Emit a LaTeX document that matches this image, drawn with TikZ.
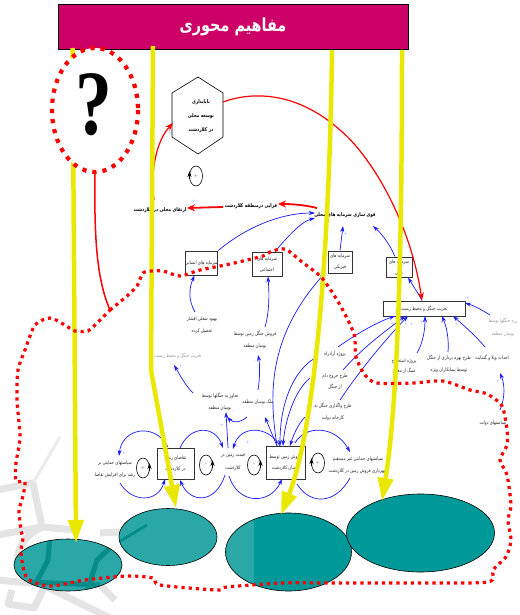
\documentclass[tikz,border=0pt]{standalone}
\usepackage{fontspec}
\usetikzlibrary{arrows.meta,shapes.geometric,calc}
\newfontfamily\arabicfont[Script=Arabic,FakeStretch=0.8]{DejaVu Sans}
\newfontfamily\qfont{Liberation Serif}
\TeXXeTstate=1
\newcommand\ar[1]{\beginR #1\endR}
\definecolor{magentatitle}{HTML}{CC0066}
\definecolor{tealdark}{HTML}{009999}
\definecolor{teallight}{HTML}{2AA8A8}
\definecolor{tealstrip}{HTML}{078C8C}
\definecolor{yell}{HTML}{EAE800}
\definecolor{wm}{HTML}{E4E4E4}
\definecolor{blu}{HTML}{1A1AFF}
\tikzset{
  lbl/.style={font=\fontsize{5}{12.5}\selectfont\arabicfont,align=center,inner sep=0pt,text=black!85},
  lblb/.style={font=\fontsize{5.2}{12.5}\selectfont\arabicfont\bfseries,align=center,inner sep=0pt},
  greylbl/.style={lbl,text=black!40},
  boxn/.style={draw=black!80,line width=1pt,fill=white,inner sep=0pt,align=center,font=\fontsize{5}{11}\selectfont\arabicfont,text=black!85},
  bl/.style={draw=blu,line width=.7pt,-{Stealth[length=6pt,width=4pt]}},
  blplain/.style={draw=blu,line width=.7pt},
  rd/.style={draw=red,line width=1.8pt,-{Stealth[length=8pt,width=7pt]}},
  rdthin/.style={draw=red,line width=1.2pt,-{Stealth[length=8pt,width=6pt]}},
  dots/.style={draw=red,line width=3.2pt,dash pattern=on 3.2pt off 4pt},
  yl/.style={draw=yell,line width=4.5pt,-{Triangle[length=23pt,width=15pt]}},
  sgn/.style={font=\fontsize{4.5}{5}\selectfont\sffamily,text=blu!70,inner sep=0pt},
  ell/.style={ellipse,draw=black,line width=.6pt,inner sep=0pt},
  cycl/.style={font=\fontsize{5}{5}\selectfont\sffamily,inner sep=0pt,text=black!80},
}
\newcommand\cyc[5]{%
  \node[cycl] (#1) at (#2,#3) {#4};
  \draw[black,line width=.6pt] (#1.center) ellipse (6.5 and 10);
  \draw[black,line width=1pt,-{Stealth[length=6pt,width=4pt]}] ($(#1.center)+(#5*6.5,3)$) -- ($(#1.center)+(#5*6.5,-5)$);
}
\begin{document}
\begin{tikzpicture}[x=1pt,y=-1pt]
\useasboundingbox (0,0) rectangle (519,615);
\fill[white] (0,0) rectangle (519,615);

% watermark
\begin{scope}[draw=wm,line width=7pt,line join=round]
  \draw (-3,490) -- (33,483) -- (42,527);
  \draw[line width=3pt,draw=wm!70] (33,483) -- (60,437);
  \draw (-3,535) -- (42,527) -- (75,530);
  \draw (42,527) .. controls (15,540) and (10,565) .. (30,583);
  \draw (-3,580) -- (30,583) -- (50,578);
  \draw (12,590) -- (8,604) -- (34,608) -- (45,586);
  \draw (45,586) -- (110,618);
  \draw (90,575) -- (115,600);
  \draw (100,533) -- (120,532);
\end{scope}

% ellipses
\node[ell,draw=none,fill=teallight,minimum width=108pt,minimum height=52pt] (e1) at (68,565) {};
\begin{scope}
  \clip (68,565) ellipse (54 and 26);
  \draw[tealstrip,line width=5pt] (50,535) -- (48,560) -- (35,585);
  \draw[tealstrip,line width=5pt] (110,548) -- (97,560) -- (87,592);
  \draw[tealstrip,line width=5pt] (30,582) -- (100,585);
\end{scope}
\draw[black,line width=.6pt] (68,565) ellipse (54 and 26);

\node[ell,draw=none,fill=teallight,minimum width=98pt,minimum height=57pt] (e2) at (168,537) {};
\begin{scope}
  \clip (168,537) ellipse (49 and 28.5);
  \draw[tealstrip,line width=3pt] (117,543) -- (147,525);
\end{scope}
\draw[black,line width=.6pt] (168,537) ellipse (49 and 28.5);

\node[ell,draw=none,fill=tealdark,minimum width=126pt,minimum height=78pt] (e3) at (288.5,552) {};
\begin{scope}
  \clip (288.5,552) ellipse (63 and 39);
  \fill[teallight] (220,505) rectangle (254,600);
\end{scope}
\draw[black,line width=.6pt] (288.5,552) ellipse (63 and 39);

\node[ell,fill=tealdark,minimum width=148pt,minimum height=78pt] (e4) at (420.5,533) {};

% title
\node[draw=black,line width=.8pt,fill=magentatitle,minimum width=350pt,minimum height=45pt,inner sep=0pt,text=white,font=\fontsize{18}{20}\selectfont\arabicfont\bfseries] (title) at (233,26.5) {\ar{مفاهیم محوری}};

% hexagon
\node[lblb,font=\fontsize{5.2}{14}\selectfont\arabicfont\bfseries] (hex) at (201,116) {\ar{ناپایداری}\\\ar{توسعه محلی}\\\ar{در کلاردشت}};
\draw[black,line width=.6pt] (198,77) -- (223,93) -- (223,137) -- (198,154) -- (172,137) -- (172,93) -- cycle;

% main labels
\node[lblb] (artq) at (160,210) {\ar{ارتقای محلی در کلاردشت}};
\node[lblb] (fzy) at (251,206) {\ar{فزایی درمنطقه کلاردشت}};
\node[lblb] (qvy) at (345,215) {\ar{قوی سازی سرمایه های محلی}};

% boxes
\node[boxn,minimum width=29pt,minimum height=24pt] (b1) at (201.5,263) {\ar{سرمایه های انسانی}};
\node[boxn,minimum width=30pt,minimum height=24pt] (b2) at (267,264) {\ar{سرمایه های}\\\ar{اجتماعی}};
\node[boxn,minimum width=24pt,minimum height=22pt] (b3) at (340,262) {\ar{سرمایه های}\\\ar{فیزیکی}};
\node[boxn,minimum width=26pt,minimum height=20pt] (b4) at (399,267) {\ar{سرمایه های}\\\ar{مالی}};
\node[boxn,minimum width=82pt,minimum height=15pt] (b5) at (424,308.5) {\ar{تخریب جنگل و محیط زیست}};
\node[boxn,minimum width=37pt,minimum height=31pt] (tz) at (175.5,463.5) {\ar{تقاضای زمین}\\\ar{در کلاردشت}};
\node[boxn,minimum width=39pt,minimum height=33pt] (fz) at (285.5,462.5) {\ar{فروش زمین توسط}\\\ar{بومیان کلاردشت}};

% other labels
\node[lbl] (bhb) at (202,325) {\ar{بهبود شغلی اقشار}\\\ar{تحصیل کرده}};
\node[lbl] (frb) at (255,340) {\ar{فروش جنگل زمین توسط}\\\ar{بومیان منطقه}};
\node[greylbl] (grt) at (178,356) {\ar{تخریب جنگل و محیط زیست}};
\node[lbl] (tjv) at (220,402) {\ar{تجاوز به جنگلها توسط}\\\ar{بومیان منطقه}};
\node[lbl] (mlk) at (258,402) {\ar{ملک بومیان منطقه}};
\node[lbl] (qmt) at (233,462) {\ar{قیمت زمین در}\\\ar{کلاردشت}};
\node[lbl] (spl) at (115,469) {\ar{سیاستهای حمایتی بر}\\\ar{رشد برای افزایش تقاضا}};
\node[lbl] (spr) at (358,465) {\ar{سیاستهای حمایتی غیر مستقیم}\\\ar{شهرداری فروش زمین در کلاردشت}};
\node[lbl] (pra) at (335,354) {\ar{پروژه آزادراه}};
\node[lbl,font=\fontsize{5}{11}\selectfont\arabicfont] (trk) at (335,382) {\ar{طرح خروج دام}\\\ar{از جنگل}};
\node[lbl] (trv) at (333,412) {\ar{طرح واگذاری جنگل به}\\\ar{کارخانه دولت}};
\node[lbl,font=\fontsize{5}{10}\selectfont\arabicfont] (prs) at (404,366) {\ar{پروژه استخراج}\\\ar{سنگ از معدن}};
\node[lbl] (trb) at (449,364) {\ar{طرح بهره برداری از جنگل}\\\ar{توسط پیمانکاران ویژه}};
\node[lbl] (ahd) at (492,358) {\ar{احداث ویلا و گسایت}};
\node[greylbl,font=\fontsize{5}{13}\selectfont\arabicfont] (zrh) at (503,327) {\ar{زره جنگلها توسط}\\\ar{بومیان منطقه}};
\node[lbl] (syd) at (493,423) {\ar{سیاستهای دولت}};

% named free ends of the connectors
\foreach \n/\px/\py in {qa/315/213,qb/315/218,qc/343/226,qd/373/226,
  zs/490/315,as/485/347,bs/448/352,ps/417/353,vs/340/400,ks/343/370,rs/338/347,
  za/465/303,aa/453/316,ba/442/316,pa/425/316,va/408/316,ka/405/316,ra/395/316,
  f1/315/358,f2/310/378,f3/305/417,ft1/280/446,ft2/283/446,ft3/290/446,ft0/277/446,
  ml/265/417,mb/258/390,fb/258/355,tj/226/412,ms/247/417,mt/227/417,qm1/228/448,
  tg/193/393,gt/174/365,fu/265/327,bh/195/312,sd/500/410,sa/500/373,
  pr1/350/452,fr1/295/443,qt1/233/449,qt2/223/448,qb1/229/476,qb2/225/475,
  tz1/168/447,tz2/180/448,tz3/180/480,sl1/119/456,sl2/120/483,tb/165/479,
  fb1/282/479,fb2/297/484,pr2/350/478} {
  \coordinate (\n) at (\px,\py);
}

% blue connectors
\draw[bl] (b1.north east) .. controls (245,228) and (280,213) .. (qa);
\draw[bl] ([xshift=8pt]b2.north) .. controls (285,240) and (300,222) .. (qb);
\draw[bl] (b3.north) -- (qc);
\draw[bl] ([xshift=-4pt]b4.north) .. controls (390,245) and (383,235) .. (qd);
\draw[bl] ([xshift=-2pt]b5.north) .. controls (418,293) and (412,284) .. ([xshift=9pt]b4.south);
\draw[bl] (zs) .. controls (482,310) and (475,306) .. (za);
\draw[bl] (as) .. controls (475,335) and (462,324) .. (aa);
\draw[bl] (bs) .. controls (449,340) and (447,328) .. (ba);
\draw[bl] (ps) .. controls (423,343) and (425,330) .. (pa);
\draw[bl] (vs) .. controls (360,370) and (385,340) .. (va);
\draw[bl] (ks) .. controls (365,345) and (390,328) .. (ka);
\draw[bl] (rs) .. controls (355,335) and (375,323) .. (ra);
\draw[bl] (ft0) .. controls (270,400) and (265,340) .. (325,273);
\draw[bl] (f1) .. controls (295,370) and (280,400) .. (ft1);
\draw[bl] (f2) .. controls (295,390) and (285,420) .. (ft2);
\draw[bl] (f3) .. controls (298,424) and (293,436) .. (ft3);
\draw[bl] (ft0) -- (ml);
\draw[bl] (fr1) .. controls (305,425) and (335,425) .. (pr1);
\draw[bl] (ft1) .. controls (268,425) and (240,425) .. (qt1);
\draw[bl] (qb1) .. controls (238,505) and (270,505) .. (fb1);
\draw[blplain] (fb2) .. controls (310,505) and (335,505) .. (pr2);
\draw[bl] (tz1) .. controls (155,422) and (122,428) .. (sl1);
\draw[bl] (tz2) .. controls (190,425) and (215,425) .. (qt2);
\draw[bl] (qb2) .. controls (215,505) and (190,503) .. (tz3);
\draw[bl] (sl2) .. controls (132,503) and (158,503) .. (tb);
\draw[bl] (qm1) -- (tj);
\draw[bl] (ms) .. controls (240,423) and (233,423) .. (mt);
\draw[bl] (tg) .. controls (185,385) and (180,375) .. (gt);
\draw[bl] (mb) .. controls (260,378) and (260,365) .. (fb);
\draw[bl] (fu) .. controls (270,310) and (269,290) .. ([xshift=1pt]b2.south);
\draw[bl] (bh) .. controls (188,300) and (189,288) .. ([xshift=-7pt]b1.south);
\draw[bl] (sd) .. controls (505,398) and (505,385) .. (sa);

% polarity signs
\foreach \px/\py in {170/133,194/201,286/210,346/234,393/324,406/324,412/324,422/322,442/322,457/324,468/298,181/366,124/453,222/425,248/442,295/442,348/450,275/480,498/381}
  \node[sgn,name=p\px-\py] at (\px,\py) {+};
\foreach \px/\py in {313/225,376/234,409/285,198/283,266/282,257/362,233/412,238/447,219/447,255/362,185/480}
  \node[sgn,name=m\px-\py] at (\px,\py) {-};

% loop symbols
\cyc{c0}{196}{176}{+}{-1}
\cyc{c1}{143}{468}{+}{1}
\cyc{c2}{206}{465}{-}{1}
\cyc{c3}{254}{465}{-}{1}
\cyc{c4}{318}{463}{+}{-1}

% red connectors
\coordinate (rq) at (317,208);
\coordinate (rf) at (223,207);
\coordinate (ra2) at (154,200);
\draw[rd] (rq) .. controls (305,205) and (292,204) .. (278,204);
\draw[rd] (rf) -- (187,208);
\draw[rdthin] (ra2) .. controls (150,170) and (157,140) .. (173,123);
\draw[rdthin] (223,102) .. controls (250,92) and (295,90) .. (340,130) .. controls (370,155) and (410,220) .. ([xshift=-2pt]b5.north);

% yellow arrows
\coordinate (y1s) at (72.5,48); \coordinate (y1e) at (76,543);
\coordinate (y2s) at (153,46); \coordinate (y2m) at (151,370); \coordinate (y2e) at (176,508);
\coordinate (y3s) at (332,50); \coordinate (y3e) at (281,515);
\coordinate (y4s) at (402,50); \coordinate (y4e) at (382,501);
\draw[yl] (y1s) -- (y1e);
\draw[yl] (y2s) -- (y2m) -- (y2e);
\draw[yl] (y3s) .. controls (330,220) and (318,420) .. (y3e);
\draw[yl] (y4s) .. controls (402,250) and (398,400) .. (y4e);

% question circle
\node[ellipse,fill=white,minimum width=86pt,minimum height=124pt,inner sep=0pt] (qc0) at (95,110) {};
\draw[dots,line width=4.2pt,dash pattern=on 4.2pt off 6pt] (95,110) ellipse (43 and 62);
\node[inner sep=0pt,font=\fontsize{92}{92}\selectfont\qfont\bfseries] (qm) at (94,105) {\scalebox{.8}[1]{?}};
\coordinate (rz) at (110,310);
\draw[draw=red,line width=1.5pt] (qc0.south) .. controls (94,240) and (97,280) .. (rz);

% dotted boundary
\draw[dots] plot[smooth,tension=.45] coordinates {(110,310) (127,296) (137,286) (143,273) (152,271) (163,271) (180,276) (200,270) (230,264) (263,256) (270,252) (285,249) (302,262) (322,278) (340,305) (354,334) (356,357) (365,375) (377,383) (413,383) (443,381) (470,390) (487,394) (502,406) (507,430) (507,445) (500,460) (507,475) (511,505) (508,520) (511,540) (507,555) (503,560) (493,570) (488,582) (420,583) (333,583) (283,583) (227,587) (217,590) (160,585) (153,578) (127,576) (85,580) (50,586) (27,578) (21,553) (23,538) (21,531) (19,510) (22,500) (25,482) (16,481) (16,463) (20,437) (17,400) (18,370) (25,350) (35,325) (50,318) (63,324) (75,331) (88,331) (95,325) (110,310)};
\end{tikzpicture}
\end{document}
